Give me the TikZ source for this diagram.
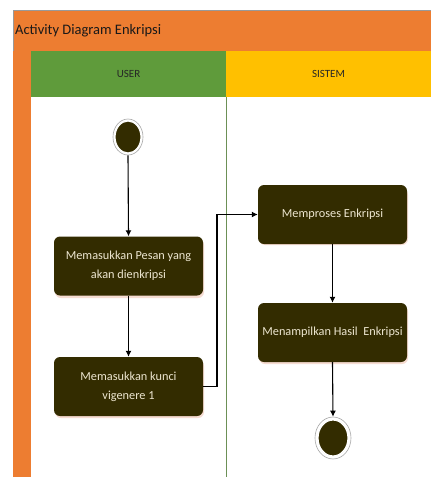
\documentclass[tikz,border=0pt]{standalone}
\usepackage{fontspec}
\setmainfont{Carlito}
\usetikzlibrary{arrows.meta,shapes.geometric}
\begin{document}
\begin{tikzpicture}[x=1pt,y=-1pt,
  act/.style={draw=none,fill=boxfill,rounded corners=6pt,minimum width=149pt,minimum height=59pt,
    text=boxtext,align=center,font=\fontsize{12.3}{19}\selectfont,inner sep=2pt},
  conn/.style={draw=black,line width=1.1pt,-{Latex[length=6pt,width=6pt]}},
  term/.style={draw=white,fill=boxfill,ellipse,line width=1.2pt,inner sep=0pt},
  termring/.style={draw=gray!70,ellipse,line width=0.6pt,inner sep=0pt,fill=white},
  hdr/.style={font=\fontsize{11}{13}\selectfont,text=black!85}
]
\definecolor{orng}{HTML}{ED7D31}
\definecolor{grn}{HTML}{5F9B3B}
\definecolor{ylw}{HTML}{FFC000}
\definecolor{boxfill}{HTML}{332C00}
\definecolor{boxtext}{HTML}{EDE6D0}
\definecolor{shad}{HTML}{F6DCD2}
\useasboundingbox (0,0) rectangle (431,477);
\fill[white] (0,0) rectangle (431,477);
% title bar
\fill[orng] (13,10) rectangle (431,51);
\draw[gray!80,line width=0.6pt] (13,477) -- (13,10) -- (431,10);
\node[anchor=west,font=\fontsize{14.5}{16}\selectfont,inner sep=0pt,text=black!90] (title) at (15,31) {Activity Diagram Enkripsi};
% left strip
\fill[orng] (13,51) rectangle (31,477);
% lane headers
\fill[grn] (31,51) rectangle (226,97);
\fill[ylw] (226,51) rectangle (431,97);
\node[hdr] (user) at (128.5,74) {USER};
\node[hdr] (sistem) at (328.5,74) {SISTEM};
\draw[grn!60!gray,line width=0.6pt] (226,97) -- (226,477);
% shadows
\foreach \a/\b/\c/\d in {54/236/203/296, 54/357/203/416, 258/186/407/243, 258/303/407/362}
  \fill[shad,rounded corners=6pt] (\a+1,\b+3) rectangle (\c+1,\d+2);
% start
\node[termring,minimum width=30pt,minimum height=36pt] (startring) at (128,137) {};
\node[term,minimum width=26pt,minimum height=32pt] (start) at (128,137) {};
% activities
\node[act] (a1) at (128.5,266) {Memasukkan Pesan yang\\akan dienkripsi};
\node[act] (a2) at (128.5,386.5) {Memasukkan kunci\\vigenere 1};
\node[act] (a3) at (332.5,214.5) {Memproses Enkripsi};
\node[act] (a4) at (332.5,332.5) {Menampilkan Hasil~ Enkripsi};
% end
\node[termring,minimum width=36pt,minimum height=42pt] (endring) at (333,438) {};
\node[term,minimum width=30pt,minimum height=36pt] (stop) at (333,438) {};
% connectors
\draw[conn] (startring.south) -- (a1.north);
\draw[conn] (a1.south) -- (a2.north);
\draw[conn] (a2.east) -- (217,386.5) -- (217,214.5) -- (a3.west);
\draw[conn] (a3.south) -- (a4.north);
\draw[conn] (a4.south) -- (endring.north);
\end{tikzpicture}
\end{document}
